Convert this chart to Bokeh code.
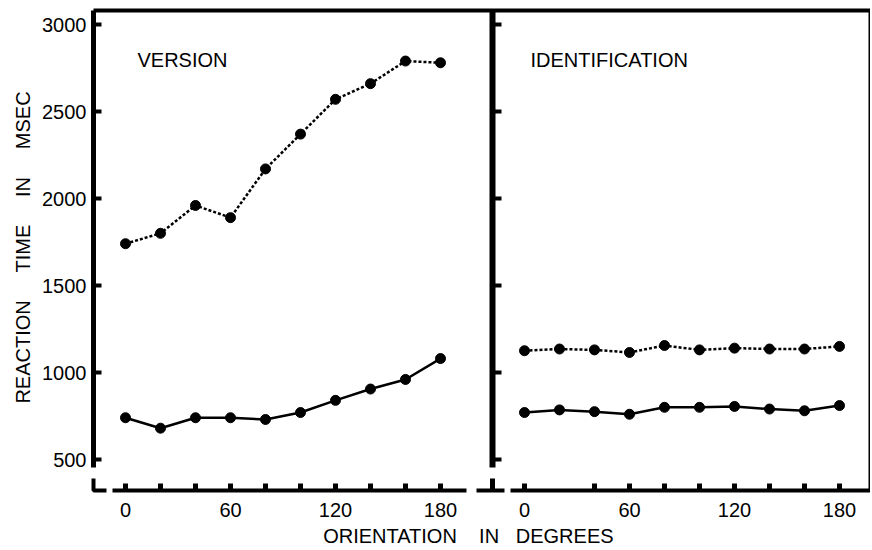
from bokeh.plotting import figure
from bokeh.models import Range1d, FixedTicker, Label
from bokeh.embed import file_html
from bokeh.resources import INLINE

# ---------------- data ----------------
angles = [0, 20, 40, 60, 80, 100, 120, 140, 160, 180]
version_dotted = [1740, 1800, 1960, 1890, 2170, 2370, 2570, 2660, 2790, 2780]
version_solid = [740, 680, 740, 740, 730, 770, 840, 905, 960, 1080]
ident_dotted = [1125, 1135, 1130, 1115, 1155, 1130, 1140, 1135, 1135, 1150]
ident_solid = [770, 785, 775, 760, 800, 800, 805, 790, 780, 810]

y_ticks = [500, 1000, 1500, 2000, 2500, 3000]
x_label_ticks = [0, 60, 120, 180]
left_x_ticks = [0, 20, 40, 60, 80, 100, 120, 140, 160, 180]
right_x_ticks = [0, 40, 60, 80, 100, 120, 140, 160, 180]
panel_titles = ["VERSION", "IDENTIFICATION"]
NB = "\u00a0"
y_title = "REACTION" + NB * 5 + "TIME" + NB * 5 + "IN" + NB * 5 + "MSEC"
x_title = "ORIENTATION" + NB * 4 + "IN" + NB * 3 + "DEGREES" + NB * 4

# ---------------- layout (page pixels) ----------------
W, H = 870, 550
PAGE = 0
FRAME_L, FRAME_R, FRAME_T, FRAME_B = 88, 870, 0, 494
X0_LEFT, X0_RIGHT, PX_PER_DEG = 125, 525, 1.75
Y_REF_PX, Y_REF_VAL, PX_PER_MS = 24, 3000, 0.174
OFFSET = 228  # data offset of right panel (deg)

FONT = "Liberation Sans"
FS = "20px"


def dx(px):
    return (px - X0_LEFT) / PX_PER_DEG


def dy(py):
    return Y_REF_VAL - (py - Y_REF_PX) / PX_PER_MS


p = figure(width=W, height=H,
           x_range=Range1d(dx(FRAME_L), dx(FRAME_R)),
           y_range=Range1d(dy(FRAME_B), dy(FRAME_T)),
           output_backend="svg", toolbar_location=None,
           min_border_left=FRAME_L - PAGE, min_border_right=W - (FRAME_R - PAGE),
           min_border_top=FRAME_T - PAGE, min_border_bottom=H - (FRAME_B - PAGE))
p.outline_line_color = None
p.grid.visible = False
p.background_fill_color = "white"
p.border_fill_color = "white"

# ---------------- axes (labels only) ----------------
xa = p.xaxis[0]
xa.ticker = FixedTicker(ticks=x_label_ticks + [t + OFFSET for t in x_label_ticks])
overrides = {t: str(t) for t in x_label_ticks}
overrides.update({t + OFFSET: str(t) for t in x_label_ticks})
xa.major_label_overrides = overrides
xa.axis_line_color = None
xa.major_tick_line_color = None
xa.minor_tick_line_color = None
xa.major_tick_out = 0
xa.major_tick_in = 0
xa.major_label_standoff = 8
xa.major_label_text_font = FONT
xa.major_label_text_font_size = FS
xa.major_label_text_color = "black"
xa.axis_label = x_title
xa.axis_label_standoff = 5
xa.axis_label_text_font = FONT
xa.axis_label_text_font_size = FS
xa.axis_label_text_font_style = "normal"
xa.axis_label_text_color = "black"

ya = p.yaxis[0]
ya.ticker = FixedTicker(ticks=y_ticks)
ya.axis_line_color = None
ya.major_tick_line_color = None
ya.minor_tick_line_color = None
ya.major_tick_out = 0
ya.major_tick_in = 0
ya.major_label_standoff = 2
ya.major_label_text_font = FONT
ya.major_label_text_font_size = FS
ya.major_label_text_color = "black"
ya.axis_label = y_title
ya.axis_label_standoff = 5
ya.axis_label_text_font = FONT
ya.axis_label_text_font_size = FS
ya.axis_label_text_font_style = "normal"
ya.axis_label_text_color = "black"

# ---------------- frame lines ----------------
K = "black"


def pline(pts, w):
    p.line([dx(a) for a, b in pts], [dy(b) for a, b in pts], line_color=K, line_width=w)


pline([(93, 10), (870, 10)], 4)             # top border
pline([(93, 10), (93, 467)], 5)             # left axis
pline([(93, 478), (93, 490), (106, 490)], 4)  # left break stub
pline([(112, 490), (466, 490)], 4)          # left x axis
pline([(476, 490), (504, 490)], 4)          # middle stub
pline([(492, 478), (492, 490)], 5)
pline([(492, 10), (492, 467)], 6)           # divider
pline([(510, 490), (870, 490)], 4)          # right x axis
pline([(869, 10), (869, 490)], 2)           # right border

# ticks
p.segment(x0=[dx(93)] * len(y_ticks), x1=[dx(101)] * len(y_ticks),
          y0=y_ticks, y1=y_ticks, line_color=K, line_width=4)
p.segment(x0=[dx(492)] * len(y_ticks), x1=[dx(501)] * len(y_ticks),
          y0=y_ticks, y1=y_ticks, line_color=K, line_width=4)
p.segment(x0=left_x_ticks, x1=left_x_ticks,
          y0=[dy(490)] * len(left_x_ticks), y1=[dy(483)] * len(left_x_ticks),
          line_color=K, line_width=5)
rxt = [t + OFFSET for t in right_x_ticks]
p.segment(x0=rxt, x1=rxt,
          y0=[dy(490)] * len(rxt), y1=[dy(483)] * len(rxt),
          line_color=K, line_width=5)

# ---------------- data series ----------------
right_angles = [a + OFFSET for a in angles]
for xs, ys, dash in [(angles, version_dotted, "3 2"), (angles, version_solid, "solid"),
                     (right_angles, ident_dotted, "3 2"), (right_angles, ident_solid, "solid")]:
    p.line(xs, ys, line_color=K, line_width=2.5, line_dash=dash)
    p.scatter(xs, ys, size=10, fill_color=K, line_color=K)

# ---------------- texts ----------------
p.add_layout(Label(x=dx(137), y=dy(59), text=panel_titles[0], text_font=FONT,
                   text_font_size=FS, text_color=K, text_baseline="alphabetic"))
p.add_layout(Label(x=dx(530), y=dy(59), text=panel_titles[1], text_font=FONT,
                   text_font_size=FS, text_color=K, text_baseline="alphabetic"))

open("out.html", "w").write(file_html(p, INLINE))
